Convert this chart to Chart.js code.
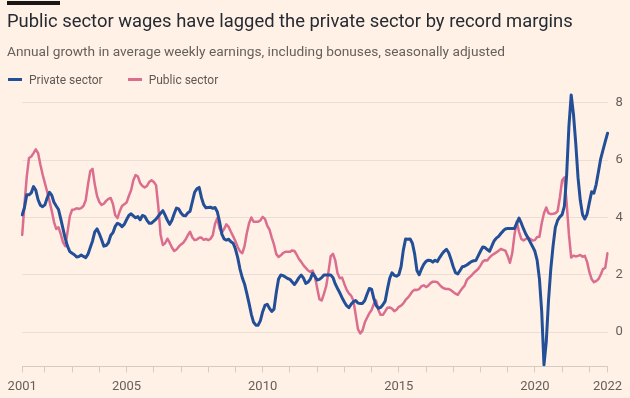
<!DOCTYPE html>
<html>
<head>
<meta charset="utf-8">
<script src="https://cdn.jsdelivr.net/npm/chart.js@4.4.1/dist/chart.umd.min.js"></script>
<style>
  html, body { margin: 0; padding: 0; background: #fff1e5; }
  #wrap { position: relative; width: 630px; height: 398px; overflow: hidden; font-family: Roboto, sans-serif; }
  #chart { position: absolute; left: 0; top: 0; }
  .bar { position: absolute; left: 7px; top: 1px; width: 53px; height: 4px; background: #1a1817; }
  .title { position: absolute; left: 7px; top: 9px; margin: 0; font-size: 18.4px; line-height: 24px; font-weight: 400; color: #262a33; white-space: nowrap; }
  .subtitle { position: absolute; left: 7px; top: 42px; margin: 0; font-size: 13.7px; line-height: 18px; color: #66605c; white-space: nowrap; }
  .legend { position: absolute; left: 8px; top: 72px; font-size: 12px; line-height: 16px; color: #5f5955; white-space: nowrap; }
  .legend span.item { display: inline-block; margin-right: 22px; }
  .legend i { display: inline-block; width: 14px; height: 3px; vertical-align: middle; margin-right: 7px; position: relative; top: -1px; }
</style>
</head>
<body>
<div id="wrap">
  <canvas id="chart" width="630" height="398"></canvas>
  <div class="bar"></div>
  <h1 class="title">Public sector wages have lagged the private sector by record margins</h1>
  <p class="subtitle">Annual growth in average weekly earnings, including bonuses, seasonally adjusted</p>
  <div class="legend">
    <span class="item"><i style="background:#234f98"></i>Private sector</span>
    <span class="item"><i style="background:#db6d8f"></i>Public sector</span>
  </div>
</div>
<script>
// Monthly series, March 2001 to September 2022 (% annual growth)
const startYear = 2001;
const startMonth = 2; // March, 0-based
const labelYears = [2005, 2010, 2015, 2020];
const yTicks = [0, 2, 4, 6, 8];

const privateSector = [
  4.09,4.35,4.79,4.79,4.86,5.08,4.95,4.62,4.43,4.38,
  4.44,4.68,4.88,4.78,4.53,4.40,4.28,3.95,3.60,3.26,
  2.99,2.81,2.75,2.70,2.62,2.64,2.69,2.64,2.60,2.72,
  2.95,3.18,3.50,3.60,3.43,3.22,3.00,3.02,3.12,3.37,
  3.47,3.69,3.80,3.76,3.68,3.76,3.92,4.07,4.13,4.06,
  3.99,4.03,3.92,4.07,4.04,3.90,3.80,3.80,3.87,3.94,
  4.05,4.15,4.24,4.08,3.90,3.76,3.90,4.13,4.33,4.30,
  4.16,4.07,4.06,4.16,4.22,4.55,4.88,5.00,5.05,4.70,
  4.45,4.34,4.35,4.36,4.32,4.35,4.20,3.85,3.42,3.25,
  3.21,3.24,3.15,3.10,2.90,2.60,2.20,1.90,1.68,1.35,
  1.00,0.62,0.34,0.24,0.24,0.40,0.71,0.93,0.97,0.83,
  0.72,0.80,1.38,1.85,1.99,1.97,1.92,1.87,1.84,1.75,
  1.66,1.77,1.90,1.99,1.88,1.70,1.74,1.85,2.05,1.95,
  1.82,1.84,1.90,1.99,1.99,1.99,1.99,1.90,1.68,1.52,
  1.37,1.20,1.05,0.92,0.85,0.97,1.06,1.10,1.01,1.00,
  1.00,1.10,1.32,1.52,1.50,1.17,0.93,0.83,0.86,0.95,
  1.08,1.50,1.88,2.07,1.98,1.95,2.00,2.28,2.86,3.25,
  3.24,3.25,3.10,2.72,2.15,2.00,2.20,2.36,2.47,2.51,
  2.50,2.44,2.51,2.46,2.60,2.72,2.82,2.89,2.77,2.54,
  2.28,2.07,2.03,2.15,2.28,2.30,2.34,2.40,2.46,2.49,
  2.50,2.66,2.82,2.97,2.95,2.88,2.82,3.00,3.18,3.28,
  3.34,3.44,3.53,3.60,3.62,3.62,3.62,3.62,3.80,3.98,
  3.80,3.60,3.42,3.28,3.13,2.98,2.82,2.50,1.85,0.71,
  -1.15,-0.35,1.10,2.20,3.00,3.65,3.90,4.02,4.10,4.40,
  5.50,7.20,8.28,7.60,6.60,5.40,4.60,4.10,3.95,4.12,
  4.52,4.90,4.85,5.15,5.60,6.05,6.35,6.65,6.94
];

const publicSector = [
  3.39,4.45,5.42,6.08,6.13,6.25,6.38,6.25,5.85,5.50,
  5.20,4.90,4.58,4.24,3.85,3.60,3.66,3.42,3.13,3.00,
  3.50,4.05,4.27,4.28,4.32,4.30,4.33,4.40,4.60,5.15,
  5.62,5.70,5.15,4.75,4.54,4.44,4.48,4.58,4.65,4.68,
  4.47,4.08,3.98,4.22,4.40,4.46,4.52,4.75,4.95,5.30,
  5.48,5.43,5.20,5.10,5.05,5.10,5.24,5.30,5.24,5.13,
  4.38,3.40,3.04,3.10,3.26,3.12,2.95,2.83,2.88,2.98,
  3.06,3.12,3.23,3.38,3.50,3.30,3.21,3.23,3.29,3.30,
  3.22,3.25,3.21,3.25,3.38,3.78,3.97,3.62,3.47,3.60,
  3.76,3.67,3.50,3.34,3.17,2.97,2.82,2.75,3.00,3.45,
  3.80,4.00,3.85,3.85,3.85,3.90,4.02,3.95,3.72,3.58,
  3.30,3.05,2.72,2.62,2.68,2.76,2.80,2.80,2.80,2.85,
  2.83,2.70,2.55,2.45,2.33,2.24,2.15,2.10,2.15,1.95,
  1.55,1.15,1.10,1.33,1.60,2.10,2.65,2.73,2.50,2.05,
  1.88,1.90,1.68,1.48,1.35,1.27,1.10,0.60,0.10,-0.05,
  0.05,0.33,0.50,0.65,0.77,0.98,1.10,0.77,0.60,0.60,
  0.72,0.85,0.86,0.82,0.73,0.78,0.88,0.92,1.00,1.12,
  1.20,1.30,1.42,1.48,1.47,1.50,1.60,1.63,1.57,1.62,
  1.71,1.76,1.76,1.74,1.65,1.57,1.52,1.50,1.50,1.46,
  1.40,1.34,1.30,1.42,1.53,1.62,1.82,1.90,1.97,2.06,
  2.13,2.20,2.32,2.46,2.51,2.50,2.60,2.68,2.73,2.78,
  2.84,2.90,2.87,2.84,2.65,2.42,2.75,3.40,3.85,3.50,
  3.25,3.20,3.25,3.30,3.25,3.20,3.21,3.32,3.33,3.80,
  4.15,4.35,4.15,4.12,4.13,4.15,4.22,4.70,5.30,5.40,
  4.50,3.40,2.60,2.67,2.64,2.66,2.69,2.63,2.66,2.45,
  2.10,1.85,1.74,1.78,1.85,2.00,2.20,2.24,2.75
];

// month categories
const months = privateSector.map((v, i) => {
  const m = startMonth + i;
  return { year: startYear + Math.floor(m / 12), month: m % 12 };
});
const labels = months.map(d => d.year + '-' + String(d.month + 1).padStart(2, '0'));
const last = months.length - 1;

const axisColor = '#d6cbc1';
const tickFont = { family: 'Roboto, sans-serif', size: 13 };

new Chart(document.getElementById('chart').getContext('2d'), {
  type: 'line',
  data: {
    labels: labels,
    datasets: [
      { label: 'Private sector', data: privateSector, borderColor: '#234f98', borderWidth: 3 },
      { label: 'Public sector', data: publicSector, borderColor: '#db6d8f', borderWidth: 2.5 }
    ]
  },
  options: {
    responsive: false,
    animation: false,
    devicePixelRatio: 1,
    layout: { padding: { left: 22.2, top: 91.5, right: 0, bottom: 0 } },
    elements: {
      point: { radius: 0 },
      line: { tension: 0, fill: false, borderJoinStyle: 'round', borderCapStyle: 'round' }
    },
    plugins: { legend: { display: false }, tooltip: { enabled: false } },
    scales: {
      x: {
        type: 'category',
        offset: false,
        afterBuildTicks: function (scale) {
          const t = [{ value: 0 }];
          months.forEach((d, i) => { if (d.month === 0) t.push({ value: i }); });
          t.push({ value: last });
          scale.ticks = t;
        },
        afterFit: function (scale) { scale.height = 31.6; },
        grid: { drawOnChartArea: false, drawTicks: true, tickLength: 6, color: axisColor, lineWidth: 1 },
        border: { display: true, color: axisColor, width: 1 },
        ticks: {
          autoSkip: false,
          maxRotation: 0,
          padding: 7,
          color: '#66605c',
          font: tickFont,
          callback: function (value) {
            const d = months[value];
            if (value === 0 || value === last) return String(d.year);
            if (labelYears.includes(d.year)) return String(d.year);
            return '';
          }
        }
      },
      y: {
        position: 'right',
        min: -1.2,
        max: 8.4,
        afterBuildTicks: function (scale) { scale.ticks = yTicks.map(v => ({ value: v })); },
        afterFit: function (scale) { scale.width = 22.5; },
        grid: { color: '#ebdfd5', drawTicks: false, lineWidth: 1 },
        border: { display: false },
        ticks: { padding: 8, color: '#66605c', font: tickFont, callback: v => String(v) }
      }
    }
  }
});
</script>
</body>
</html>
